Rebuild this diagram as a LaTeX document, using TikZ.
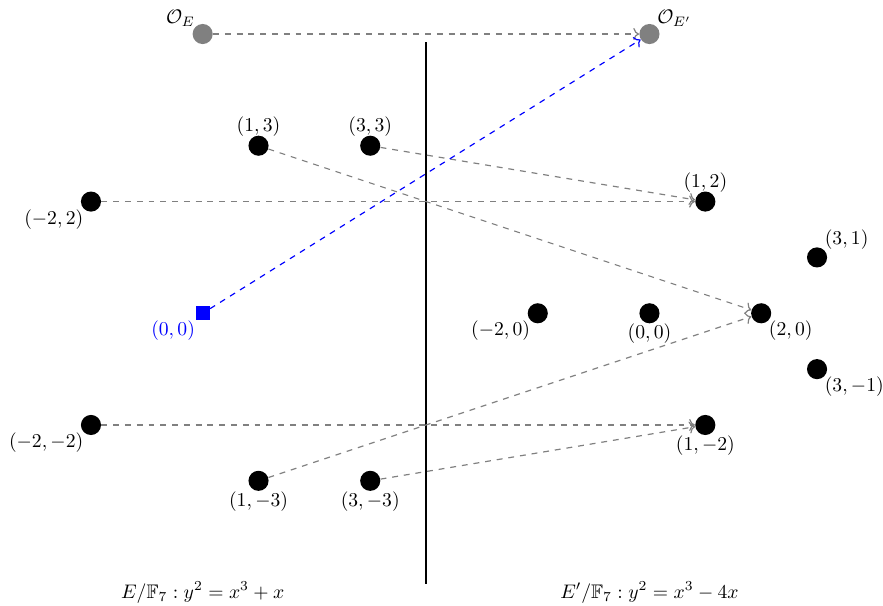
\documentclass[tikz,border=0pt]{standalone}
\usepackage{amsmath, amssymb}
\usetikzlibrary{arrows.meta, calc}

\begin{document}
\begin{tikzpicture}[line join=round,
  pt/.style={circle, fill=black, minimum size=0.36cm, inner sep=0pt},
  origin/.style={pt, fill=gray},
  map/.style={->, dashed, semithick, gray},
  lbl/.style={inner sep=0pt}]
  \useasboundingbox (-3.629,-5.224) rectangle (12.181,5.609);

  % Points of E (left)
  \node[origin, label={[lbl]above left:$\mathcal{O}_E$}] (oe) at (0,5) {};
  \node[pt, label={[lbl, label distance=-1pt]above:$(1,3)$}] (e13) at (1,3) {};
  \node[pt, label={[lbl, label distance=-1pt]above:$(3,3)$}] (e33) at (3,3) {};
  \node[pt, label={[lbl]below left:$(-2,2)$}] (em22) at (-2,2) {};
  \node[fill=blue, minimum size=0.25cm, inner sep=0pt,
        label={[lbl, text=blue]below left:$(0,0)$}] (e00) at (0,0) {};
  \node[pt, label={[lbl]below left:$(-2,-2)$}] (em2m2) at (-2,-2) {};
  \node[pt, label={[lbl]below:$(1,-3)$}] (e1m3) at (1,-3) {};
  \node[pt, label={[lbl]below:$(3,-3)$}] (e3m3) at (3,-3) {};

  % Points of E' (right)
  \node[origin, label={[lbl]above right:$\mathcal{O}_{E'}$}] (oep) at (8,5) {};
  \node[pt, label={[lbl, label distance=-1pt]above:$(1,2)$}] (f12) at (9,2) {};
  \node[pt, label={[lbl]above right:$(3,1)$}] (f31) at (11,1) {};
  \node[pt, label={[lbl]below left:$(-2,0)$}] (fm20) at (6,0) {};
  \node[pt, label={[lbl]below:$(0,0)$}] (f00) at (8,0) {};
  \node[pt, label={[lbl]below right:$(2,0)$}] (f20) at (10,0) {};
  \node[pt, label={[lbl]below right:$(3,-1)$}] (f3m1) at (11,-1) {};
  \node[pt, label={[lbl]below:$(1,-2)$}] (f1m2) at (9,-2) {};

  % Separator and curve names
  \coordinate (top) at (4,4.85);
  \coordinate (bot) at (4,-4.85);
  \draw[semithick] (top) -- (bot);
  \node (ce) at (0,-5) {$E/\mathbb{F}_7 : y^2 = x^3 + x$};
  \node (cep) at (8,-5) {$E'/\mathbb{F}_7 : y^2 = x^3 - 4x$};

  % The map
  \draw[map] (oe) -- (oep);
  \draw[map] (e13) -- (f20);
  \draw[map] (e33) -- (f12);
  \draw[map] (em22) -- (f12);
  \draw[map] (em2m2) -- (f1m2);
  \draw[map] (e1m3) -- (f20);
  \draw[map] (e3m3) -- (f1m2);
  \draw[->, dashed, semithick, blue] (e00) -- (oep);
\end{tikzpicture}
\end{document}
